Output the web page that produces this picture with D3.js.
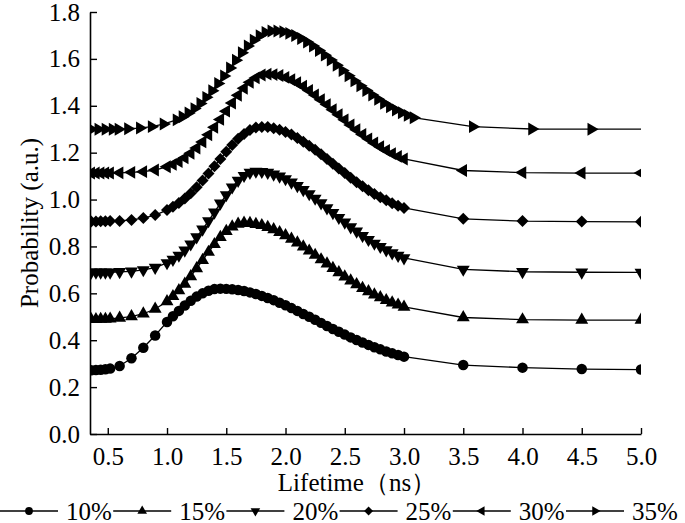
<!DOCTYPE html>
<html>
<head>
<meta charset="utf-8">
<script src="https://cdn.jsdelivr.net/npm/d3@7"></script>
<style>
  body { margin: 0; background: #fff; }
  text { font-family: "Liberation Serif", "Times New Roman", serif; fill: #000; }
</style>
</head>
<body>
<script>
// lifetime grid (ns), shared by the first five series
var lifetime = [0.36,0.40,0.44,0.48,0.52,0.6,0.7,0.8,0.9,1.0,
  1.05,1.1,1.15,1.2,1.25,1.3,1.35,1.4,1.45,1.5,
  1.55,1.6,1.65,1.7,1.75,1.8,1.85,1.9,1.95,2.0,
  2.05,2.1,2.15,2.2,2.25,2.3,2.35,2.4,2.45,2.5,
  2.55,2.6,2.65,2.7,2.75,2.8,2.85,2.9,2.95,3.0,
  3.5,4.0,4.5,5.0];

// the 35% series sits on a slightly shifted grid
var lifetime35 = [0.36,0.42,0.48,0.54,0.59,0.67,0.77,0.87,0.97,1.08,
  1.13,1.18,1.23,1.28,1.33,1.38,1.43,1.48,1.53,1.58,
  1.63,1.68,1.73,1.78,1.83,1.88,1.93,1.98,2.03,2.08,
  2.13,2.18,2.23,2.28,2.33,2.38,2.43,2.48,2.53,2.58,
  2.63,2.68,2.73,2.78,2.83,2.88,2.93,2.98,3.03,3.08,
  3.58,4.08,4.58,5.08];

var p10 = [0.272,0.273,0.274,0.276,0.279,0.290,0.323,0.368,0.420,0.478,
  0.502,0.525,0.548,0.568,0.586,0.600,0.611,0.618,0.620,0.619,
  0.617,0.614,0.610,0.604,0.597,0.589,0.580,0.571,0.560,0.549,
  0.537,0.525,0.512,0.500,0.487,0.474,0.461,0.448,0.436,0.424,
  0.412,0.401,0.390,0.380,0.370,0.361,0.352,0.344,0.337,0.330,
  0.294,0.283,0.277,0.275];

var p15 = [0.489,0.489,0.490,0.490,0.491,0.495,0.501,0.513,0.533,0.565,
  0.587,0.612,0.640,0.672,0.706,0.741,0.776,0.809,0.839,0.865,
  0.884,0.896,0.900,0.899,0.895,0.890,0.882,0.872,0.860,0.847,
  0.832,0.816,0.799,0.781,0.763,0.744,0.726,0.707,0.689,0.671,
  0.654,0.638,0.622,0.608,0.594,0.582,0.570,0.560,0.551,0.542,
  0.497,0.488,0.486,0.486];

var p20 = [0.690,0.690,0.690,0.690,0.690,0.692,0.694,0.700,0.710,0.730,
  0.744,0.762,0.784,0.810,0.840,0.873,0.909,0.946,0.984,1.020,
  1.053,1.081,1.102,1.115,1.120,1.119,1.115,1.108,1.099,1.088,
  1.074,1.059,1.042,1.024,1.005,0.985,0.964,0.944,0.923,0.903,
  0.883,0.865,0.846,0.829,0.813,0.799,0.785,0.772,0.761,0.751,
  0.702,0.692,0.690,0.689];

var p25 = [0.906,0.906,0.907,0.907,0.908,0.909,0.913,0.921,0.934,0.955,
  0.969,0.985,1.005,1.027,1.053,1.081,1.111,1.142,1.173,1.204,
  1.233,1.259,1.280,1.297,1.307,1.310,1.309,1.304,1.298,1.288,
  1.277,1.263,1.247,1.230,1.212,1.193,1.173,1.153,1.132,1.113,
  1.093,1.074,1.057,1.040,1.024,1.010,0.997,0.984,0.974,0.964,
  0.918,0.908,0.906,0.905];

var p30 = [1.113,1.113,1.113,1.113,1.113,1.114,1.116,1.119,1.126,1.140,
  1.150,1.162,1.178,1.197,1.220,1.246,1.276,1.308,1.342,1.377,
  1.412,1.445,1.475,1.500,1.519,1.531,1.535,1.533,1.529,1.521,
  1.511,1.498,1.483,1.465,1.446,1.426,1.405,1.383,1.362,1.340,
  1.318,1.298,1.278,1.259,1.241,1.225,1.210,1.196,1.184,1.173,
  1.124,1.115,1.113,1.113];

var p35 = [1.300,1.300,1.300,1.300,1.300,1.302,1.305,1.311,1.322,1.340,
  1.353,1.369,1.388,1.410,1.436,1.464,1.495,1.527,1.561,1.594,
  1.626,1.655,1.680,1.699,1.713,1.719,1.719,1.716,1.709,1.700,
  1.687,1.672,1.655,1.636,1.616,1.595,1.573,1.550,1.528,1.506,
  1.485,1.465,1.446,1.428,1.411,1.396,1.382,1.370,1.359,1.349,
  1.311,1.301,1.300,1.300];

var labels = ["10%", "15%", "20%", "25%", "30%", "35%"];
var xTicks = [0.5, 1.0, 1.5, 2.0, 2.5, 3.0, 3.5, 4.0, 4.5, 5.0];
var yTicks = [0.0, 0.2, 0.4, 0.6, 0.8, 1.0, 1.2, 1.4, 1.6, 1.8];

var series = [
  {label: labels[0], xs: lifetime,   ys: p10, shape: "circle"},
  {label: labels[1], xs: lifetime,   ys: p15, shape: "up"},
  {label: labels[2], xs: lifetime,   ys: p20, shape: "down"},
  {label: labels[3], xs: lifetime,   ys: p25, shape: "diamond"},
  {label: labels[4], xs: lifetime,   ys: p30, shape: "left"},
  {label: labels[5], xs: lifetime35, ys: p35, shape: "right"}
];

var W = 685, H = 523;
var plotL = 90, plotR = 641, plotT = 12, plotB = 434;

var x = d3.scaleLinear().domain([0.35, 5.0]).range([plotL, plotR]);
var y = d3.scaleLinear().domain([0, 1.8]).range([plotB, plotT]);

var svg = d3.select("body").append("svg")
  .attr("width", W)
  .attr("height", H);

svg.append("defs").append("clipPath")
  .attr("id", "plot")
  .append("rect")
    .attr("x", plotL).attr("y", plotT - 6)
    .attr("width", plotR - plotL).attr("height", plotB - plotT + 6);

// marker path + rotation for each shape
function marker(shape, size) {
  var sym = d3.symbol();
  var rot = 0;
  if (shape == "circle") sym.type(d3.symbolCircle).size(size * 1.2);
  else if (shape == "diamond") { sym.type(d3.symbolSquare).size(size * 1.0); rot = 45; }
  else {
    sym.type(d3.symbolTriangle).size(size);
    if (shape == "down") rot = 180;
    if (shape == "left") rot = -90;
    if (shape == "right") rot = 90;
  }
  return {d: sym(), rot: rot};
}

var plot = svg.append("g").attr("clip-path", "url(#plot)");

var line = d3.line()
  .x(function(d) { return x(d[0]); })
  .y(function(d) { return y(d[1]); });

series.forEach(function(s) {
  var pts = s.xs.map(function(v, i) { return [v, s.ys[i]]; });
  plot.append("path")
    .datum(pts)
    .attr("d", line)
    .attr("fill", "none")
    .attr("stroke", "#000")
    .attr("stroke-width", 1.3);

  var m = marker(s.shape, 72);
  plot.selectAll(null)
    .data(pts)
    .enter()
    .append("path")
      .attr("d", m.d)
      .attr("transform", function(d) {
        return "translate(" + x(d[0]) + "," + y(d[1]) + ") rotate(" + m.rot + ")";
      })
      .attr("fill", "#000");
});

// axes
var xAxis = d3.axisBottom(x)
  .tickValues(xTicks)
  .tickFormat(d3.format(".1f"))
  .tickSizeInner(-6)
  .tickSizeOuter(0)
  .tickPadding(13);

var yAxis = d3.axisLeft(y)
  .tickValues(yTicks)
  .tickFormat(d3.format(".1f"))
  .tickSizeInner(-7)
  .tickSizeOuter(0)
  .tickPadding(10);

var gx = svg.append("g")
  .attr("transform", "translate(0," + plotB + ")")
  .call(xAxis);

var gy = svg.append("g")
  .attr("transform", "translate(" + plotL + ",0)")
  .call(yAxis);

[gx, gy].forEach(function(g) {
  g.select(".domain").attr("stroke", "#000").attr("stroke-width", 1.6);
  g.selectAll(".tick line").attr("stroke", "#000").attr("stroke-width", 1.4);
  g.selectAll(".tick text")
    .attr("font-family", "Liberation Serif")
    .attr("font-size", 25)
    .attr("fill", "#000");
});

svg.append("text")
  .attr("x", 357)
  .attr("y", 491)
  .attr("text-anchor", "middle")
  .attr("font-size", 25)
  .text("Lifetime（ns）");

svg.append("text")
  .attr("transform", "translate(38,223) rotate(-90)")
  .attr("text-anchor", "middle")
  .attr("font-size", 25)
  .text("Probability (a.u.)");

// legend along the bottom
var legend = svg.append("g").attr("transform", "translate(0,511)");
series.forEach(function(s, i) {
  var tx = 66 + i * 113.2;
  legend.append("line")
    .attr("x1", tx - 66).attr("x2", tx - 8)
    .attr("y1", 0).attr("y2", 0)
    .attr("stroke", "#000")
    .attr("stroke-width", 1.5);
  var m = marker(s.shape, 40);
  legend.append("path")
    .attr("d", m.d)
    .attr("transform", "translate(" + (tx - 37) + ",0) rotate(" + m.rot + ")")
    .attr("fill", "#000");
  legend.append("text")
    .attr("x", tx)
    .attr("y", 9)
    .attr("font-size", 25)
    .text(s.label);
});
</script>
</body>
</html>
